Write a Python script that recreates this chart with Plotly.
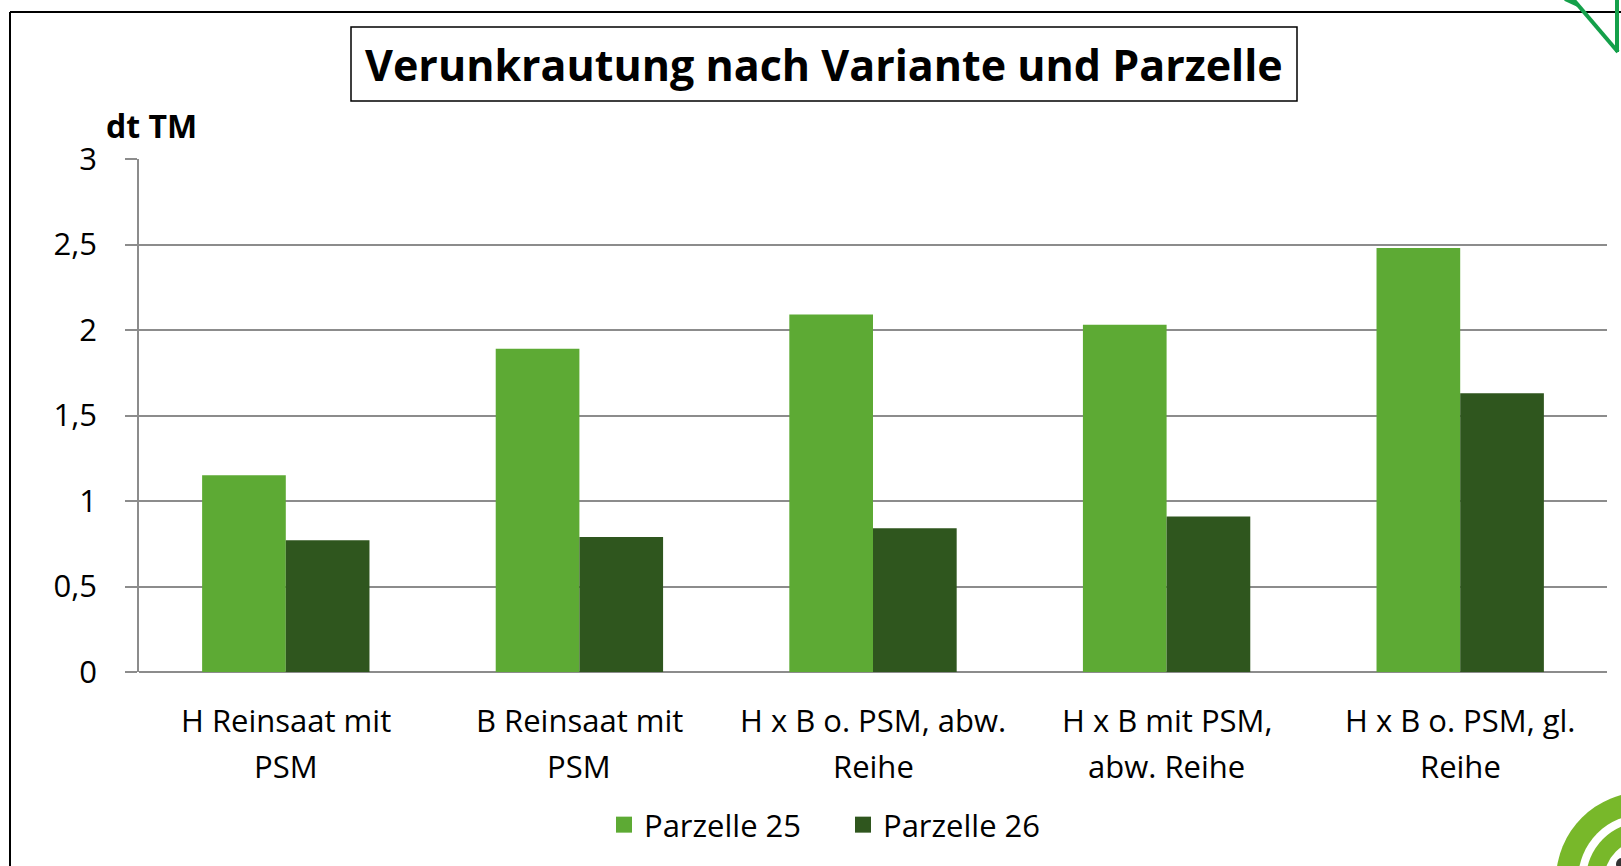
import plotly.graph_objects as go

categories = ["H Reinsaat mit PSM", "B Reinsaat mit PSM", "H x B o. PSM, abw. Reihe",
              "H x B mit PSM, abw. Reihe", "H x B o. PSM, gl. Reihe"]
label_line1 = ["H Reinsaat mit", "B Reinsaat mit", "H x B o. PSM, abw.", "H x B mit PSM,", "H x B o. PSM, gl."]
label_line2 = ["PSM", "PSM", "Reihe", "abw. Reihe", "Reihe"]
series_names = ["Parzelle 25", "Parzelle 26"]
parzelle_25 = [1.15, 1.89, 2.09, 2.03, 2.48]
parzelle_26 = [0.77, 0.79, 0.84, 0.91, 1.63]
y_ticks = [0, 0.5, 1, 1.5, 2, 2.5, 3]
colors = ["#5DAA34", "#2F561E"]

FW, FH = 1621, 866
L, R, T, B = 139, 1607, 159, 672
PW, PH = R - L, B - T
FONT = "Open Sans"
FS = 31

def px(x):
    return (x - L) / PW

def py(y):
    return (B - y) / PH

fig = go.Figure()
for name, vals, col in zip(series_names, [parzelle_25, parzelle_26], colors):
    fig.add_trace(go.Bar(x=categories, y=vals, name=name, showlegend=False,
                         marker=dict(color=col, line=dict(width=0))))
# legend entries (square swatches)
for name, col in zip(series_names, colors):
    fig.add_trace(go.Scatter(x=[None], y=[None], name=name, mode="markers",
                             marker=dict(symbol="square", size=20, color=col)))

shapes = []
shapes.append(dict(type="line", xref="paper", yref="paper", x0=px(10), x1=px(FW + 5), y0=py(12), y1=py(12),
                   line=dict(color="black", width=2)))
shapes.append(dict(type="line", xref="paper", yref="paper", x0=px(10), x1=px(10), y0=py(12), y1=py(FH + 5),
                   line=dict(color="black", width=2)))
shapes.append(dict(type="rect", xref="paper", yref="paper", x0=px(351), x1=px(1297), y0=py(27), y1=py(101),
                   line=dict(color="black", width=1.5), fillcolor="white"))
g1 = "#14A04A"
for (x0, y0, x1, y1) in [(1565, -1, 1578, 5), (1572, -2, 1618, 52), (1617, -2, 1617, 52)]:
    shapes.append(dict(type="line", xref="paper", yref="paper", x0=px(x0), x1=px(x1), y0=py(y0), y1=py(y1),
                       line=dict(color=g1, width=4)))
cx, cy = 1644, 880
g2 = "#78B82A"
for r, col in [(88, g2), (66, "white"), (58, g2), (40, "white")]:
    shapes.append(dict(type="circle", xref="paper", yref="paper", x0=px(cx - r), x1=px(cx + r),
                       y0=py(cy - r), y1=py(cy + r), fillcolor=col, line=dict(width=0), layer="above"))
shapes.append(dict(type="circle", xref="paper", yref="paper", x0=px(1616), x1=px(1628),
                   y0=py(858), y1=py(870), fillcolor="#333333", line=dict(width=0), layer="above"))

annotations = []
annotations.append(dict(text="<b>Verunkrautung nach Variante und Parzelle</b>", xref="paper", yref="paper",
                        x=px(824), y=py(64), xanchor="center", yanchor="middle", showarrow=False,
                        font=dict(family=FONT, size=43, color="black")))
annotations.append(dict(text="<b>dt TM</b>", xref="paper", yref="paper", x=px(151), y=py(126),
                        xanchor="center", yanchor="middle", showarrow=False,
                        font=dict(family=FONT, size=32, color="black")))
for c, l1, l2 in zip(categories, label_line1, label_line2):
    annotations.append(dict(text=l1, xref="x", yref="paper", x=c, y=py(720), xanchor="center",
                            yanchor="middle", showarrow=False, font=dict(family=FONT, size=FS, color="black")))
    annotations.append(dict(text=l2, xref="x", yref="paper", x=c, y=py(766), xanchor="center",
                            yanchor="middle", showarrow=False, font=dict(family=FONT, size=FS, color="black")))

fig.update_layout(
    width=FW, height=FH,
    margin=dict(l=L, r=FW - R, t=T, b=FH - B, pad=0),
    paper_bgcolor="white", plot_bgcolor="white",
    separators=",.",
    barmode="group", bargap=0.43, bargroupgap=0,
    font=dict(family=FONT, size=FS, color="black"),
    showlegend=True,
    legend=dict(orientation="h", x=px(604), y=py(825), xanchor="left", yanchor="middle",
                font=dict(family=FONT, size=FS, color="black"), bgcolor="rgba(0,0,0,0)",
                entrywidth=194, entrywidthmode="pixels", itemwidth=30, itemsizing="trace"),
    shapes=shapes,
    annotations=annotations,
    xaxis=dict(showticklabels=False, showline=False, ticks="", showgrid=False, zeroline=False),
    yaxis=dict(range=[0, 3], tickvals=y_ticks, showgrid=True, gridcolor="#8C8C8C", gridwidth=1.5,
               showline=True, linecolor="#8C8C8C", linewidth=1.5, ticks="outside", ticklen=12,
               tickcolor="#8C8C8C", tickwidth=1.5, zeroline=True, zerolinecolor="#8C8C8C",
               zerolinewidth=1.5, ticklabelstandoff=22, tickfont=dict(family=FONT, size=FS, color="black")),
)

fig.write_html("out.html", config={"displayModeBar": False},
               post_script="document.body.style.margin='0';document.body.style.overflow='hidden';")
